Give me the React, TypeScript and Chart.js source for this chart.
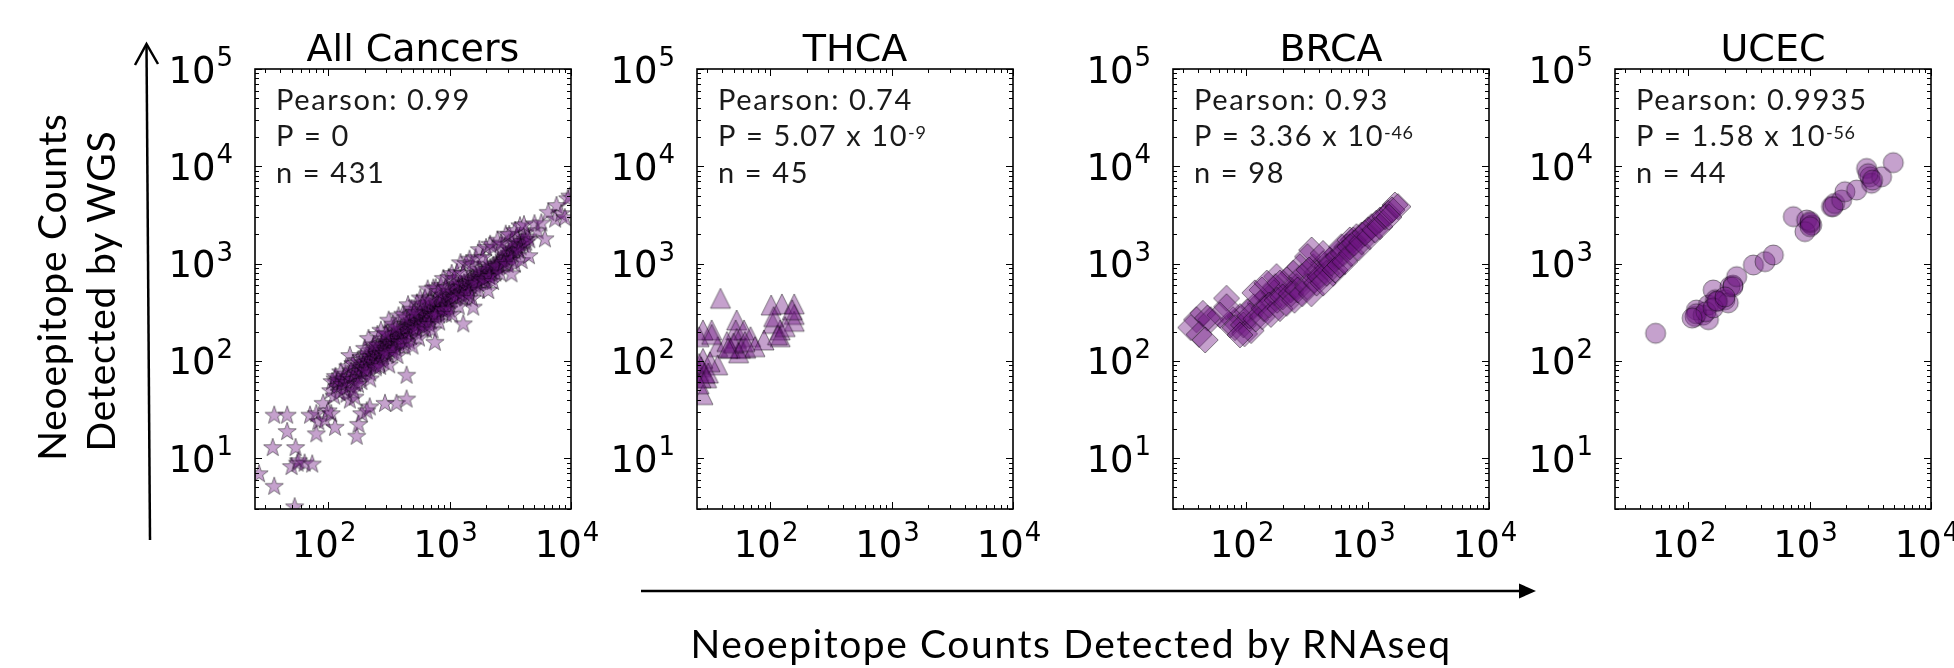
import React, { useEffect, useRef } from "react";
import { Chart, registerables } from "chart.js";

Chart.register(...registerables);

// ---------------- data ----------------
const panelTitles = ["All Cancers", "THCA", "BRCA", "UCEC"];
const pearsonTexts = ["Pearson: 0.99", "Pearson: 0.74", "Pearson: 0.93", "Pearson: 0.9935"];
const pValueTexts = ["P = 0", "P = 5.07 x 10", "P = 3.36 x 10", "P = 1.58 x 10"];
const pValueExponents = ["", "-9", "-46", "-56"];
const sampleSizeTexts = ["n = 431", "n = 45", "n = 98", "n = 44"];
const xTickPowers = [2, 3, 4];
const yTickPowers = [1, 2, 3, 4, 5];
const xAxisRange = [25, 10000];
const yAxisRange = [3, 100000];
const xAxisTitle = "Neoepitope Counts Detected by RNAseq";
const yAxisTitleLines = ["Neoepitope Counts", "Detected by WGS"];

// [RNAseq count, WGS count]
const allCancersPoints: number[][] = [
  [27, 7], [36, 5.2], [53, 3.2], [35, 13], [36, 28], [46, 28], [46, 19], [54, 13], [50, 8.3], [56, 9], [57, 9.5],
  [64, 9], [74, 8.8], [71, 28], [80, 29], [91, 37], [83, 24], [94, 25], [106, 29], [114, 21], [80, 18], [100, 31],
  [172, 17], [178, 22.5], [189, 29], [208, 31], [220, 34], [151, 40], [166, 43], [142, 46], [117, 61], [130, 62],
  [114, 66], [151, 115], [294, 37], [366, 37], [443, 41], [443, 72],
  [105, 50], [108, 62], [112, 44], [115, 70], [118, 55], [121, 64], [124, 48], [127, 78], [130, 58], [133, 66],
  [136, 52], [139, 74], [142, 61], [145, 88], [148, 69], [151, 56], [154, 80], [157, 65], [160, 95], [163, 72],
  [166, 59], [169, 84], [172, 76], [175, 102], [178, 68], [181, 90], [184, 79], [187, 110], [190, 86], [193, 74],
  [196, 98], [199, 82], [188, 62], [176, 58], [162, 50],
  [202, 105], [205, 92], [208, 120], [211, 86], [214, 100], [217, 112], [220, 94], [224, 130], [227, 104], [230, 118],
  [233, 98], [236, 140], [240, 112], [243, 125], [246, 106], [250, 132], [253, 118], [257, 146], [260, 110], [264, 128],
  [268, 138], [271, 120], [275, 152], [279, 130], [283, 114], [287, 145], [291, 136], [295, 160], [299, 128], [303, 150],
  [308, 142], [312, 170], [316, 134], [320, 156], [325, 148], [330, 180], [334, 140], [339, 165], [344, 158], [349, 190],
  [354, 150], [359, 176], [364, 168], [370, 200], [375, 160], [381, 186], [386, 178], [392, 210], [398, 170], [404, 196],
  [222, 76], [248, 90], [262, 96], [285, 100], [310, 118], [335, 125], [360, 135], [385, 148], [300, 190], [340, 215],
  [410, 205], [416, 188], [423, 230], [430, 215], [437, 198], [444, 240], [451, 222], [458, 206], [466, 252], [474, 232],
  [482, 214], [490, 262], [498, 242], [506, 224], [515, 275], [524, 252], [533, 235], [542, 288], [551, 262], [561, 245],
  [571, 300], [581, 275], [591, 255], [601, 315], [612, 285], [623, 266], [634, 330], [645, 298], [657, 278], [669, 345],
  [681, 312], [693, 290], [706, 360], [719, 325], [732, 302], [745, 375], [759, 340], [773, 315], [787, 392], [801, 352],
  [816, 328], [831, 410], [846, 368], [862, 342], [878, 428], [894, 384], [910, 356], [927, 448], [944, 400], [961, 372],
  [979, 468], [997, 418], [430, 160], [480, 180], [520, 320], [600, 230], [640, 370], [700, 260], [760, 420], [820, 300],
  [880, 480], [940, 340], [470, 300], [560, 340], [660, 400], [750, 290], [850, 450], [950, 520], [530, 200], [620, 240],
  [1015, 490], [1034, 436], [1053, 540], [1072, 512], [1092, 455], [1112, 565], [1133, 530], [1154, 475], [1175, 590],
  [1197, 552], [1219, 495], [1242, 615], [1265, 575], [1289, 518], [1313, 642], [1337, 600], [1362, 540], [1388, 668],
  [1414, 625], [1440, 562], [1467, 695], [1494, 650], [1522, 585], [1551, 725], [1580, 676], [1610, 610], [1640, 755],
  [1670, 704], [1702, 636], [1734, 786], [1766, 732], [1800, 662], [1833, 818], [1868, 762], [1903, 690], [1938, 850],
  [1975, 794], [2012, 718], [2050, 885], [2088, 826], [2128, 748], [2168, 920], [2208, 860], [2250, 778], [2292, 956],
  [2335, 894], [2379, 810], [2424, 992], [2470, 930], [1100, 620], [1400, 480], [1700, 880], [2000, 1000],
  [2520, 1030], [2570, 960], [2620, 1080], [2680, 1120], [2740, 1000], [2800, 1180], [2870, 1080], [2940, 1240],
  [3010, 1150], [3080, 1300], [3150, 1210], [3230, 1380], [3310, 1280], [3390, 1450], [3470, 1340], [3560, 1530],
  [3650, 1420], [3740, 1620], [3840, 1500], [3940, 1700], [4050, 1590], [4160, 1800], [4280, 1680], [4400, 1900],
  [4530, 1780], [3000, 1600], [3600, 1900], [4200, 2100], [2700, 1400], [3300, 1700],
  [200, 136], [215, 172], [238, 148], [255, 189], [272, 209], [298, 194], [315, 265], [340, 241], [362, 225], [380, 293],
  [412, 305], [433, 281], [455, 382], [485, 344], [510, 316], [538, 398], [575, 448], [598, 389], [628, 446], [660, 554],
  [690, 428], [735, 566], [770, 570], [805, 523], [845, 600], [890, 712], [930, 577], [985, 729], [1040, 801], [1090, 708],
  [1150, 817], [1230, 1033], [1290, 800], [1370, 1014], [1460, 1124], [1520, 988], [1640, 1164], [1760, 1408],
  [1880, 1166], [2000, 1480], [2160, 1598], [2300, 1495], [2480, 1761], [2650, 1643], [2900, 2030], [3100, 2015],
  [3450, 2208], [3800, 2470], [4100, 2540],
  [205, 80], [222, 66], [246, 86], [268, 89], [295, 121], [318, 92], [345, 128], [372, 115], [402, 157], [428, 141],
  [462, 162], [495, 144], [528, 216], [560, 174], [598, 221], [640, 211], [682, 239], [725, 210], [772, 301], [820, 254],
  [872, 340], [930, 307], [990, 346], [1050, 304], [1120, 459], [1190, 369], [1270, 470], [1350, 446], [1440, 504],
  [1530, 444], [1630, 636], [1740, 539], [1860, 688], [1990, 657], [2130, 746], [2280, 661], [2440, 952], [2610, 809],
  [2800, 1036], [3000, 990], [3220, 1127], [3450, 1000], [3700, 1369],
  [757, 157], [1297, 243], [1567, 361], [2081, 535], [3236, 794], [3917, 1089], [4500, 1220], [5000, 2600],
  [5300, 2200], [5700, 2650], [6100, 1820], [6500, 3400], [7400, 2900], [7600, 4000], [8300, 3300], [8900, 3000],
  [9800, 5000], [9400, 4700],
];

const thcaPoints: number[][] = [
  [39, 440], [102, 375], [125, 385], [158, 385], [158, 300], [158, 255], [152, 335], [105, 243], [121, 208], [121, 177],
  [133, 225], [53, 263], [52, 208], [61, 208], [69, 177], [53, 170], [89, 164], [57, 135], [63, 135], [47, 135],
  [55, 121], [37, 140], [33, 208], [28, 208], [26, 177], [37, 91], [28, 106], [27, 87], [26, 78], [29, 75],
  [30, 67], [27, 67], [28, 45], [32, 98], [26, 94], [44, 158], [50, 152], [75, 140], [115, 185], [45, 135],
  [31, 75], [26, 58], [107, 285], [62, 158], [33, 187],
];

const brcaPoints: number[][] = [
  [1680, 4000], [1480, 3290], [1265, 2810], [1080, 2400], [893, 1970], [763, 1750], [672, 1490], [556, 1270], [490, 1090],
  [520, 795], [431, 1000], [357, 930], [346, 1380], [320, 1180], [277, 930], [244, 795], [216, 680], [260, 580],
  [233, 535], [178, 735], [174, 580], [170, 500], [148, 457], [135, 535], [130, 390], [115, 360], [102, 320], [89, 285],
  [78, 265], [69, 440], [118, 500], [44, 308], [39, 265], [51, 265], [368, 680], [380, 795], [460, 930], [430, 1270],
  [610, 1490], [715, 1750], [810, 1890], [1010, 2220], [1180, 2600], [190, 630], [286, 735], [330, 860], [148, 630],
  [74, 234], [81, 220], [95, 234], [97, 190], [110, 205], [107, 290], [120, 270], [136, 285], [140, 345], [155, 375],
  [160, 300], [180, 420], [190, 345], [200, 455], [215, 390], [235, 490], [250, 420], [265, 535], [290, 490], [320, 580],
  [345, 490], [380, 630], [405, 735], [431, 630], [460, 795], [505, 1007], [540, 860], [575, 1180], [590, 968], [630, 1270],
  [650, 1047], [715, 1490], [735, 1270], [780, 1620], [840, 1440], [893, 1680], [950, 2050], [1040, 1890], [1145, 2220],
  [1265, 2400], [1390, 3035], [1590, 3560], [1780, 3850], [69, 360], [61, 295], [48, 275], [35, 220], [41, 187],
  [46, 164], [89, 185], [1500, 3000],
];

const ucecPoints: number[][] = [
  [54, 192], [117, 333], [114, 286], [133, 295], [147, 375], [147, 265], [161, 535], [168, 425], [175, 410], [201, 425],
  [214, 395], [221, 580], [234, 600], [251, 734], [345, 968], [430, 1047], [503, 1225], [735, 3035], [946, 2805],
  [1040, 2490], [1010, 2600], [916, 2130], [1517, 3850], [1610, 4150], [1836, 4500], [1955, 5480], [2440, 5700],
  [2950, 9500], [3140, 7800], [3240, 6700], [3915, 7800], [4890, 10900], [3040, 8400], [117, 305], [140, 320],
  [161, 350], [172, 410], [234, 580], [1560, 3850], [1010, 2700], [3300, 7200], [108, 275], [201, 455], [1010, 2400],
];

const panelPoints = [allCancersPoints, thcaPoints, brcaPoints, ucecPoints];
const panelMarkers = ["star", "triangle", "diamond", "circle"];

// ---------------- layout / style ----------------
const FIG_W = 1954;
const FIG_H = 668;
const PANEL_LEFTS = [255, 697, 1173, 1615];
const PANEL_W = 316;
const PANEL_TOP = 69;
const PANEL_BOTTOM = 509;
const CANVAS_PAD_L = 110;
const CANVAS_W = 460;
const CANVAS_H = 580;
const MARK_FILL = "rgba(110,20,130,0.4)";
const MARK_EDGE = "rgba(0,0,0,0.45)";
const TICK_FONT = '37px "DejaVu Sans"';
const TICK_SUP_FONT = '26px "DejaVu Sans"';
const TITLE_FONT = '38px "DejaVu Sans"';
const NOTE_FONT = '400 29px Lato';
const NOTE_SUP_FONT = '400 18px Lato';
const NOTE_SPACING = "1.6px";

function makeMarker(shape: string): HTMLCanvasElement {
  const size = 34;
  const c = document.createElement("canvas");
  c.width = size;
  c.height = size;
  const ctx = c.getContext("2d")!;
  const cx = size / 2;
  const cy = size / 2;
  ctx.beginPath();
  if (shape === "star") {
    const R = 9.6;
    const r = R * 0.4;
    for (let i = 0; i < 10; i++) {
      const ang = -Math.PI / 2 + (i * Math.PI) / 5;
      const rad = i % 2 === 0 ? R : r;
      const px = cx + rad * Math.cos(ang);
      const py = cy + 0.8 + rad * Math.sin(ang);
      if (i === 0) ctx.moveTo(px, py);
      else ctx.lineTo(px, py);
    }
  } else if (shape === "triangle") {
    ctx.moveTo(cx, cy - 10);
    ctx.lineTo(cx + 10, cy + 10);
    ctx.lineTo(cx - 10, cy + 10);
  } else if (shape === "diamond") {
    const h = 13;
    ctx.moveTo(cx, cy - h);
    ctx.lineTo(cx + h, cy);
    ctx.lineTo(cx, cy + h);
    ctx.lineTo(cx - h, cy);
  } else {
    ctx.arc(cx, cy, 10, 0, Math.PI * 2);
  }
  ctx.closePath();
  ctx.fillStyle = MARK_FILL;
  ctx.fill();
  ctx.strokeStyle = MARK_EDGE;
  ctx.lineWidth = 1;
  ctx.stroke();
  return c;
}

function logTickValues(min: number, max: number) {
  const out: { v: number; major: boolean }[] = [];
  for (let e = Math.floor(Math.log10(min)); e <= Math.ceil(Math.log10(max)); e++) {
    for (let m = 1; m <= 9; m++) {
      const v = m * Math.pow(10, e);
      if (v >= min * 0.9999 && v <= max * 1.0001) out.push({ v, major: m === 1 });
    }
  }
  return out;
}

function drawPower(ctx: CanvasRenderingContext2D, power: number, x: number, baseline: number, align: string) {
  ctx.font = TICK_FONT;
  const wMain = ctx.measureText("10").width;
  ctx.font = TICK_SUP_FONT;
  const sup = String(power);
  const wSup = ctx.measureText(sup).width;
  const total = wMain + 1 + wSup;
  const start = align === "center" ? x - total / 2 : x - total;
  ctx.textAlign = "left";
  ctx.textBaseline = "alphabetic";
  ctx.font = TICK_FONT;
  ctx.fillText("10", start, baseline);
  ctx.font = TICK_SUP_FONT;
  ctx.fillText(sup, start + wMain + 1, baseline - 16.5);
}

function decorPlugin(idx: number) {
  return {
    id: "panelDecor" + idx,
    afterDraw(chart: any) {
      const ctx: any = chart.ctx;
      const a = chart.chartArea;
      const xs = chart.scales.x;
      const ys = chart.scales.y;
      ctx.save();
      ctx.strokeStyle = "#000";
      ctx.fillStyle = "#000";
      // ticks (inward, all four sides)
      ctx.lineWidth = 1;
      ctx.beginPath();
      for (const t of logTickValues(xAxisRange[0], xAxisRange[1])) {
        const px = Math.round(xs.getPixelForValue(t.v)) + 0.5;
        const len = t.major ? 7 : 4;
        ctx.moveTo(px, a.bottom);
        ctx.lineTo(px, a.bottom - len);
        ctx.moveTo(px, a.top);
        ctx.lineTo(px, a.top + len);
      }
      for (const t of logTickValues(yAxisRange[0], yAxisRange[1])) {
        const py = Math.round(ys.getPixelForValue(t.v)) + 0.5;
        const len = t.major ? 7 : 4;
        ctx.moveTo(a.left, py);
        ctx.lineTo(a.left + len, py);
        ctx.moveTo(a.right, py);
        ctx.lineTo(a.right - len, py);
      }
      ctx.stroke();
      // frame
      ctx.lineWidth = 1.6;
      ctx.strokeRect(a.left, a.top, a.right - a.left, a.bottom - a.top);
      // tick labels
      for (const p of yTickPowers) {
        const py = ys.getPixelForValue(Math.pow(10, p));
        drawPower(ctx, p, a.left - 22, py + 13.5, "right");
      }
      for (const p of xTickPowers) {
        const px = xs.getPixelForValue(Math.pow(10, p));
        drawPower(ctx, p, px - 4, 557, "center");
      }
      // title
      ctx.font = TITLE_FONT;
      ctx.textAlign = "center";
      ctx.textBaseline = "alphabetic";
      ctx.fillText(panelTitles[idx], (a.left + a.right) / 2, 61);
      // annotation
      ctx.fillStyle = "#1a1a1a";
      ctx.textAlign = "left";
      ctx.letterSpacing = NOTE_SPACING;
      ctx.font = NOTE_FONT;
      const tx = a.left + 21;
      ctx.fillText(pearsonTexts[idx], tx, 109.5);
      ctx.fillText(pValueTexts[idx], tx, 146);
      if (pValueExponents[idx]) {
        const w = ctx.measureText(pValueTexts[idx]).width;
        ctx.font = NOTE_SUP_FONT;
        ctx.letterSpacing = "0.6px";
        ctx.fillText(pValueExponents[idx], tx + w, 139.3);
        ctx.letterSpacing = NOTE_SPACING;
        ctx.font = NOTE_FONT;
      }
      ctx.fillText(sampleSizeTexts[idx], tx, 182.5);
      ctx.letterSpacing = "0px";
      ctx.restore();
    },
  };
}

function Panel({ idx }: { idx: number }) {
  const ref = useRef<HTMLCanvasElement | null>(null);
  useEffect(() => {
    const marker = makeMarker(panelMarkers[idx]);
    const pts = panelPoints[idx].map((p) => ({ x: p[0], y: p[1] }));
    const chart = new Chart(ref.current!, {
      type: "scatter",
      data: {
        datasets: [
          {
            data: pts,
            pointStyle: marker as any,
            pointRadius: 12,
            pointHoverRadius: 12,
            backgroundColor: MARK_FILL,
            borderColor: MARK_EDGE,
          },
        ],
      },
      options: {
        responsive: false,
        animation: false,
        devicePixelRatio: 1,
        events: [],
        layout: {
          padding: {
            left: CANVAS_PAD_L,
            top: PANEL_TOP,
            right: CANVAS_W - CANVAS_PAD_L - PANEL_W,
            bottom: CANVAS_H - PANEL_BOTTOM,
          },
        },
        scales: {
          x: { type: "logarithmic", min: xAxisRange[0], max: xAxisRange[1], display: false },
          y: { type: "logarithmic", min: yAxisRange[0], max: yAxisRange[1], display: false },
        },
        plugins: {
          legend: { display: false },
          tooltip: { enabled: false },
          title: { display: false },
        },
      } as any,
      plugins: [decorPlugin(idx) as any],
    });
    return () => chart.destroy();
  }, [idx]);
  return (
    <canvas
      ref={ref}
      width={CANVAS_W}
      height={CANVAS_H}
      style={{
        position: "absolute",
        left: PANEL_LEFTS[idx] - CANVAS_PAD_L,
        top: 0,
        width: CANVAS_W,
        height: CANVAS_H,
      }}
    />
  );
}

export default function App() {
  const labelFont = { fontFamily: "Lato", fontSize: 39, fill: "#000" } as any;
  return (
    <div
      style={{
        position: "absolute",
        left: 0,
        top: 0,
        width: FIG_W,
        height: FIG_H,
        overflow: "hidden",
        background: "#fff",
      }}
    >
      {panelTitles.map((_, i) => (
        <Panel key={i} idx={i} />
      ))}
      <svg
        width={FIG_W}
        height={FIG_H}
        style={{ position: "absolute", left: 0, top: 0, pointerEvents: "none" }}
      >
        <line x1={641} y1={591} x2={1522} y2={591} stroke="#000" strokeWidth={2.5} />
        <polygon points="1519,583.5 1536,591 1519,598.5" fill="#000" />
        <line x1={150} y1={540} x2={146.5} y2={45} stroke="#000" strokeWidth={2.5} />
        <polyline points="135,65 146.5,44 158,64" fill="none" stroke="#000" strokeWidth={2.5} />
        <text x={1071} y={658} textAnchor="middle" letterSpacing={1.6} {...labelFont}>
          {xAxisTitle}
        </text>
        <text transform="translate(66,287) rotate(-90)" textAnchor="middle" letterSpacing={0.8} {...labelFont}>
          {yAxisTitleLines[0]}
        </text>
        <text transform="translate(115,291) rotate(-90)" textAnchor="middle" letterSpacing={0.8} {...labelFont}>
          {yAxisTitleLines[1]}
        </text>
      </svg>
    </div>
  );
}
